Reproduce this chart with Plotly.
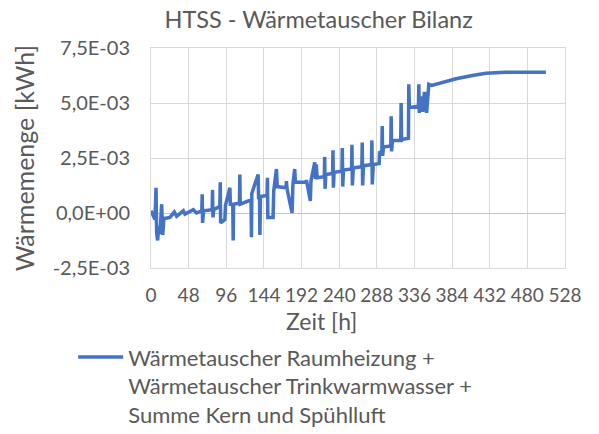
import plotly.graph_objects as go

# Zeit in Stunden und Wärmemenge in 1E-3 kWh
zeit_h = [0, 5.1, 6.4, 7.2, 8.5, 9.8, 11.5, 13.6, 14.9, 16.5, 24.2, 29.7, 32.7, 41.2, 43.3,
          53.9, 58.1, 64.8, 65.3, 65.8, 67.0, 78.0, 78.5, 79.0, 80.0, 87.8, 88.3, 88.8,
          94.2, 95.0, 100.6, 101.2, 104.3, 104.8, 105.3, 112.8, 113.3, 113.8, 127.6, 128.1, 128.6,
          136.6, 137.2, 138.4, 138.9, 139.6, 148.0, 148.5, 149.0, 155.7, 156.5, 160.0, 161.0,
          172.2, 172.7, 173.5, 179.9, 181.0, 183.3, 184.2, 197.7, 198.2, 199.0, 203.2,
          204.0, 208.8, 209.8, 210.9, 211.8, 221.0, 221.5, 222.0, 223.0, 231.6, 232.1,
          232.6, 233.5, 243.5, 244.0, 244.5, 245.5, 255.8, 256.3, 256.8, 258.0, 268.9,
          269.4, 269.9, 271.0, 281.2, 281.7, 282.2, 283.5, 291.0, 291.5, 294.4, 294.9,
          295.4, 296.5, 305.8, 306.3, 306.8, 308.0, 318.5, 319.0, 319.5, 321.0, 328.3,
          328.8, 329.5, 341.1, 341.6, 342.1, 344.5, 346.5, 348.8, 351.5, 354.3, 358.0,
          367.9, 376.0, 389.0, 410.0, 427.0, 452.7, 503.6]
waerme_e3 = [0.1, -0.3, 1.15, -0.9, -1.25, -0.6, -0.95, 0.4, -1.0, -0.25, -0.2, 0.05, -0.15, 0.1, -0.05,
             0.15, 0.0, 0.1, 0.85, -0.45, 0.1, 0.15, 1.05, -0.2, 0.15, 0.3, 1.4, -0.45,
             -0.3, 0.35, 1.15, 0.4, 0.4, -1.25, 0.4, 0.45, 1.75, 0.4, 0.6, -1.1, 0.9,
             1.75, 0.7, 0.7, -1.0, 0.75, 0.8, 1.6, -0.2, -0.2, 1.0, 2.0, 1.2,
             1.15, 1.45, 1.1, 0.0, 1.3, 2.0, 1.4, 1.4, 1.5, 1.35, 0.55,
             1.45, 2.3, 1.55, 2.2, 1.6, 1.65, 2.55, 1.1, 1.75, 1.8, 2.85,
             1.15, 1.85, 1.9, 2.95, 1.2, 1.95, 2.0, 3.1, 1.25, 2.05, 2.1,
             3.2, 1.25, 2.15, 2.2, 3.3, 1.3, 2.2, 2.25, 2.75, 2.8, 3.95,
             2.6, 3.0, 3.05, 4.4, 2.8, 3.3, 3.3, 5.0, 3.3, 3.35, 3.4,
             5.85, 4.8, 4.85, 5.85, 4.55, 5.3, 4.6, 5.5, 4.55, 5.85, 5.8,
             5.9, 6.0, 6.1, 6.25, 6.35, 6.4, 6.4]
waerme_kwh = [v / 1000 for v in waerme_e3]

x_ticks = list(range(0, 529, 48))
y_ticks = [-0.0025, 0, 0.0025, 0.005, 0.0075]
y_labels = ["-2,5E-03", "0,0E+00", "2,5E-03", "5,0E-03", "7,5E-03"]

name = ("Wärmetauscher Raumheizung +<br>Wärmetauscher Trinkwarmwasser +"
        "<br>Summe Kern und Spühlluft")

grau = "#595959"
fig = go.Figure()
fig.add_trace(go.Scatter(x=zeit_h, y=waerme_kwh, mode="lines", name=name,
                         line=dict(color="#4472C4", width=3.5)))

fig.update_layout(
    width=599, height=434,
    margin=dict(l=151, r=34, t=48, b=166, autoexpand=False),
    paper_bgcolor="white", plot_bgcolor="white",
    font=dict(family="Lato", size=19, color=grau),
    title=dict(text="HTSS - Wärmetauscher Bilanz", x=0.532, xanchor="center",
               y=0.954, yanchor="middle", font=dict(size=23.5, color=grau)),
    showlegend=True,
    legend=dict(x=-0.188, xanchor="left", y=-0.31, yanchor="top", valign="top",
                itemwidth=45, font=dict(size=22, color=grau), tracegroupgap=0),
)
# Achsentitel der x-Achse sitzt im Original links von der Mitte
fig.add_annotation(text="Zeit [h]", xref="paper", yref="paper", x=0.412, y=-0.242,
                   xanchor="center", yanchor="middle", showarrow=False,
                   font=dict(size=23, color=grau))
fig.update_xaxes(range=[0, 528], tickvals=x_ticks, showgrid=True, gridcolor="#d9d9d9",
                 gridwidth=1, showline=True, linecolor="#d9d9d9", zeroline=False,
                 ticks="", ticklabelstandoff=10, automargin=False,
                 tickfont=dict(size=19, color=grau), mirror=True)
fig.update_yaxes(range=[-0.0025, 0.0075], tickvals=y_ticks, ticktext=y_labels,
                 showgrid=True, gridcolor="#d9d9d9", gridwidth=1, showline=True,
                 linecolor="#d9d9d9", zeroline=True, zerolinecolor="#c8c8c8",
                 zerolinewidth=1, ticks="", ticklabelstandoff=16, automargin=False,
                 title=dict(text="Wärmemenge [kWh]", standoff=10, font=dict(size=25)),
                 tickfont=dict(size=20, color=grau), mirror=True)

fig.write_html("out.html", config={"displayModeBar": False},
               post_script="document.body.style.margin='0';")
